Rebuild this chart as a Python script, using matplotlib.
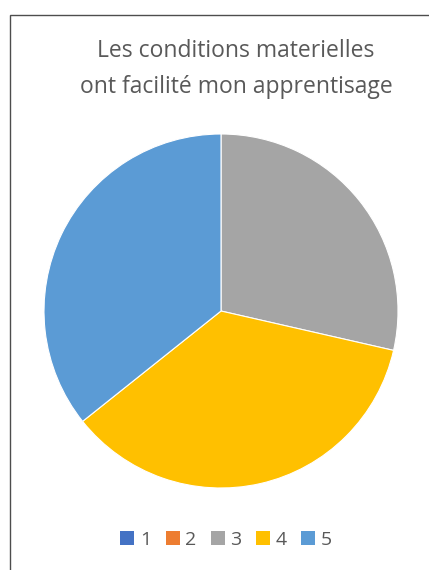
import matplotlib
matplotlib.use('Agg')
import matplotlib.pyplot as plt
from matplotlib.patches import Patch, Rectangle

# survey answers, scale 1..5
labels = ['1', '2', '3', '4', '5']
counts = [0, 0, 4, 5, 5]
colors = ['#4472C4', '#ED7D31', '#A5A5A5', '#FFC000', '#5B9BD5']
title = 'Les conditions materielles\nont facilité mon apprentisage'

W, H = 429, 570
fig = plt.figure(figsize=(W / 100, H / 100), dpi=100)

# chart frame (runs off the right and bottom edges)
fig.add_artist(Rectangle((10 / W, -0.1), 1.2, 1 - 15 / H + 0.1,
                         transform=fig.transFigure, fill=False,
                         edgecolor='#4d4d4d', linewidth=1.0))

cx, cy, r = 221, 311, 177
ax = fig.add_axes([(cx - r) / W, (H - cy - r) / H, 2 * r / W, 2 * r / H])
ax.pie(counts, colors=colors, startangle=90, counterclock=False,
       wedgeprops=dict(edgecolor='white', linewidth=0.8))
ax.set_xlim(-1, 1)
ax.set_ylim(-1, 1)
ax.set_aspect('equal')
ax.axis('off')

fig.text(236 / W, 1 - 69 / H, title, ha='center', va='center',
         fontsize=16.5, color='#595959', family='Open Sans', linespacing=1.62)

handles = [Patch(facecolor=c, edgecolor='none', label=l) for c, l in zip(colors, labels)]
fig.legend(handles=handles, loc='center', bbox_to_anchor=(226 / W, 1 - 540 / H),
           ncol=5, frameon=False, handlelength=0.72, handleheight=0.72,
           handletextpad=0.28, columnspacing=0.75,
           prop=dict(family='Open Sans', size=14), labelcolor='#595959')

fig.savefig('out.png', dpi=100)
